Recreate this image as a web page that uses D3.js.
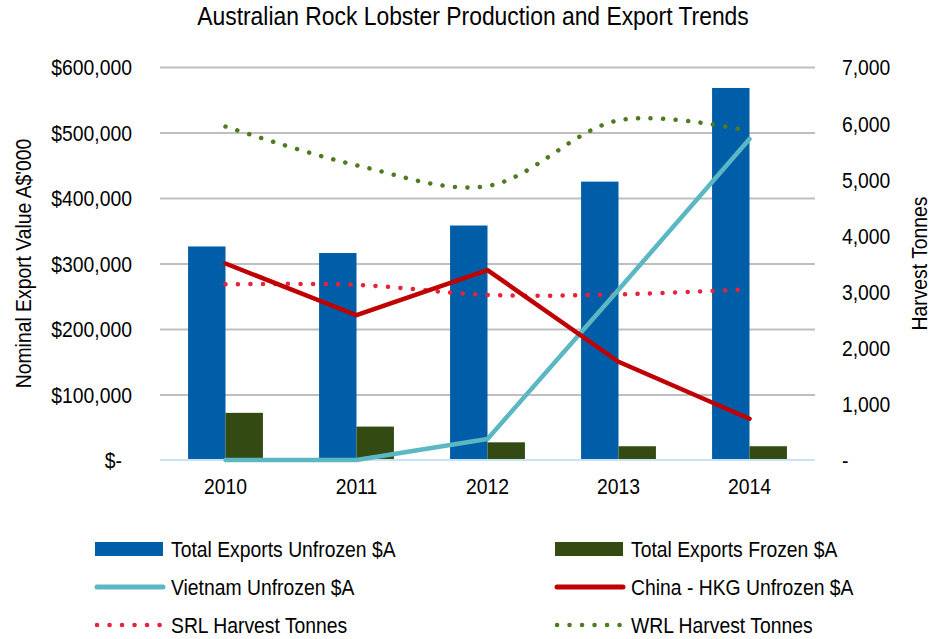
<!DOCTYPE html>
<html>
<head>
<meta charset="utf-8">
<script src="https://cdn.jsdelivr.net/npm/d3@7"></script>
<style>
  body { margin: 0; background: #fff; }
  svg text { font-family: "Liberation Sans Narrow", "Arial Narrow", "Liberation Sans", Arial, sans-serif; fill: #000; }
</style>
</head>
<body>
<svg id="chart"></svg>
<script>
// data
const years = ['2010', '2011', '2012', '2013', '2014']
const totalUnfrozen = [326000, 316000, 358000, 425000, 568000]
const totalFrozen = [72000, 51000, 27000, 21000, 21000]
const vietnamUnfrozen = [0, 0, 32000, 260000, 490000]
const chinaUnfrozen = [300000, 221000, 290000, 150000, 63000]
const srlTonnes = [3130, 3120, 2940, 2950, 3040]
const wrlTonnes = [5940, 5250, 4880, 6050, 5860]

const leftTicks = [0, 100000, 200000, 300000, 400000, 500000, 600000]
const rightTicks = [0, 1000, 2000, 3000, 4000, 5000, 6000, 7000]

const width = 932, height = 639
const margin = {top: 67, right: 117, bottom: 179, left: 160}
const innerW = width - margin.left - margin.right
const innerH = height - margin.top - margin.bottom

// no narrow font installed, so squeeze the regular one sideways
const fs = 22.5
const sx = 0.86

const svg = d3.select('#chart')
    .attr('width', width)
    .attr('height', height)

const chart = svg.append('g')
    .attr('transform', `translate(${margin.left},${margin.top})`)

// scales
const xScale = d3.scaleBand().domain(years).range([0, innerW]).padding(0)
const xSeries = d3.scaleBand().domain(['unfrozen', 'frozen'])
    .range([0, xScale.bandwidth()]).paddingInner(0).paddingOuter(0.75)
const yLeft = d3.scaleLinear().domain([0, 600000]).range([innerH, 0])
const yRight = d3.scaleLinear().domain([0, 7000]).range([innerH, 0])
const xMid = d => xScale(d) + xScale.bandwidth() / 2

// gridlines (left axis ticks)
chart.append('g')
    .call(d3.axisLeft(yLeft).tickValues(leftTicks.slice(1)).tickSize(-innerW).tickFormat(''))
    .call(g => g.select('.domain').remove())
    .call(g => g.selectAll('line').attr('stroke', '#BFBFBF').attr('stroke-width', 2))

// left tick labels
const leftAxis = chart.append('g')
    .call(d3.axisLeft(yLeft).tickValues(leftTicks).tickSize(0)
        .tickFormat(d => d === 0 ? '$-' : '$' + d3.format(',')(d)))
leftAxis.select('.domain').remove()
leftAxis.selectAll('text')
    .attr('font-size', fs).attr('dy', '0.35em')
    .attr('transform', `scale(${sx},1)`)
    .attr('x', d => (d === 0 ? -38 : -28) / sx)

// right tick labels
const rightAxis = chart.append('g')
    .attr('transform', `translate(${innerW},0)`)
    .call(d3.axisRight(yRight).tickValues(rightTicks).tickSize(0)
        .tickFormat(d => d === 0 ? '-' : d3.format(',')(d)))
rightAxis.select('.domain').remove()
rightAxis.selectAll('text')
    .attr('font-size', fs).attr('dy', '0.35em')
    .attr('transform', `scale(${sx},1)`)
    .attr('x', 27 / sx)

// bars
chart.selectAll('.bar-unfrozen')
    .data(years)
    .join('rect')
    .attr('class', 'bar-unfrozen')
    .attr('x', (d, i) => xScale(d) + xSeries('unfrozen'))
    .attr('y', (d, i) => yLeft(totalUnfrozen[i]))
    .attr('width', xSeries.bandwidth())
    .attr('height', (d, i) => innerH - yLeft(totalUnfrozen[i]))
    .attr('fill', '#005EA8')

chart.selectAll('.bar-frozen')
    .data(years)
    .join('rect')
    .attr('class', 'bar-frozen')
    .attr('x', (d, i) => xScale(d) + xSeries('frozen'))
    .attr('y', (d, i) => yLeft(totalFrozen[i]))
    .attr('width', xSeries.bandwidth())
    .attr('height', (d, i) => innerH - yLeft(totalFrozen[i]))
    .attr('fill', '#334A12')

// baseline
chart.append('line')
    .attr('x1', 0).attr('x2', innerW)
    .attr('y1', yLeft(0)).attr('y2', yLeft(0))
    .attr('stroke', '#C9E2F5').attr('stroke-width', 2)

// lines
const leftLine = d3.line().x((d, i) => xMid(years[i])).y(d => yLeft(d))
const rightSmooth = d3.line().x((d, i) => xMid(years[i])).y(d => yRight(d)).curve(d3.curveCatmullRom.alpha(0.5))

chart.append('path').datum(srlTonnes)
    .attr('d', rightSmooth)
    .attr('fill', 'none').attr('stroke', '#E8223A').attr('stroke-width', 4.5)
    .attr('stroke-linecap', 'round').attr('stroke-dasharray', '0.1,12.4')

chart.append('path').datum(wrlTonnes)
    .attr('d', rightSmooth)
    .attr('fill', 'none').attr('stroke', '#507A1E').attr('stroke-width', 4.5)
    .attr('stroke-linecap', 'round').attr('stroke-dasharray', '0.1,12.4')

chart.append('path').datum(vietnamUnfrozen)
    .attr('d', leftLine)
    .attr('fill', 'none').attr('stroke', '#5BB8C3').attr('stroke-width', 4.5)
    .attr('stroke-linecap', 'round').attr('stroke-linejoin', 'round')

chart.append('path').datum(chinaUnfrozen)
    .attr('d', leftLine)
    .attr('fill', 'none').attr('stroke', '#C00000').attr('stroke-width', 4.5)
    .attr('stroke-linecap', 'round').attr('stroke-linejoin', 'round')

// x axis labels
const xAxis = chart.append('g')
    .attr('transform', `translate(0,${innerH})`)
    .call(d3.axisBottom(xScale).tickSize(0).tickPadding(18))
xAxis.select('.domain').remove()
xAxis.selectAll('text')
    .attr('font-size', fs)
    .attr('transform', `scale(${sx},1)`)

// title + axis titles
svg.append('text')
    .attr('transform', `translate(473,25) scale(0.88,1)`)
    .attr('text-anchor', 'middle').attr('font-size', 26)
    .text('Australian Rock Lobster Production and Export Trends')

svg.append('text')
    .attr('transform', `translate(31,${margin.top + innerH / 2}) rotate(-90) scale(${sx},1)`)
    .attr('text-anchor', 'middle').attr('font-size', fs)
    .text("Nominal Export Value A$'000")

svg.append('text')
    .attr('transform', `translate(927,${margin.top + innerH / 2}) rotate(-90) scale(${sx},1)`)
    .attr('text-anchor', 'middle').attr('font-size', fs)
    .text('Harvest Tonnes')

// legend
const legendItems = [
    {label: 'Total Exports Unfrozen $A', type: 'bar', color: '#005EA8', col: 0, row: 0},
    {label: 'Total Exports Frozen $A', type: 'bar', color: '#334A12', col: 1, row: 0},
    {label: 'Vietnam Unfrozen $A', type: 'line', color: '#5BB8C3', col: 0, row: 1},
    {label: 'China - HKG Unfrozen $A', type: 'line', color: '#C00000', col: 1, row: 1},
    {label: 'SRL Harvest Tonnes', type: 'dot', color: '#E8223A', col: 0, row: 2},
    {label: 'WRL Harvest Tonnes', type: 'dot', color: '#507A1E', col: 1, row: 2}
]

const legend = svg.append('g')
const item = legend.selectAll('g')
    .data(legendItems)
    .join('g')
    .attr('transform', d => `translate(${d.col === 0 ? 95 : 555},${549 + d.row * 38})`)

item.filter(d => d.type === 'bar').append('rect')
    .attr('x', 0).attr('y', -7).attr('width', 68).attr('height', 14)
    .attr('fill', d => d.color)
item.filter(d => d.type === 'line').append('line')
    .attr('x1', 2).attr('x2', 68).attr('y1', 0).attr('y2', 0)
    .attr('stroke', d => d.color).attr('stroke-width', 5).attr('stroke-linecap', 'round')
item.filter(d => d.type === 'dot').append('line')
    .attr('x1', 2).attr('x2', 66).attr('y1', 0).attr('y2', 0)
    .attr('stroke', d => d.color).attr('stroke-width', 4.5)
    .attr('stroke-linecap', 'round').attr('stroke-dasharray', '0.1,12.4')
item.append('text')
    .attr('transform', `translate(76,0) scale(${sx},1)`)
    .attr('dy', '0.35em')
    .attr('font-size', fs)
    .text(d => d.label)
</script>
</body>
</html>
